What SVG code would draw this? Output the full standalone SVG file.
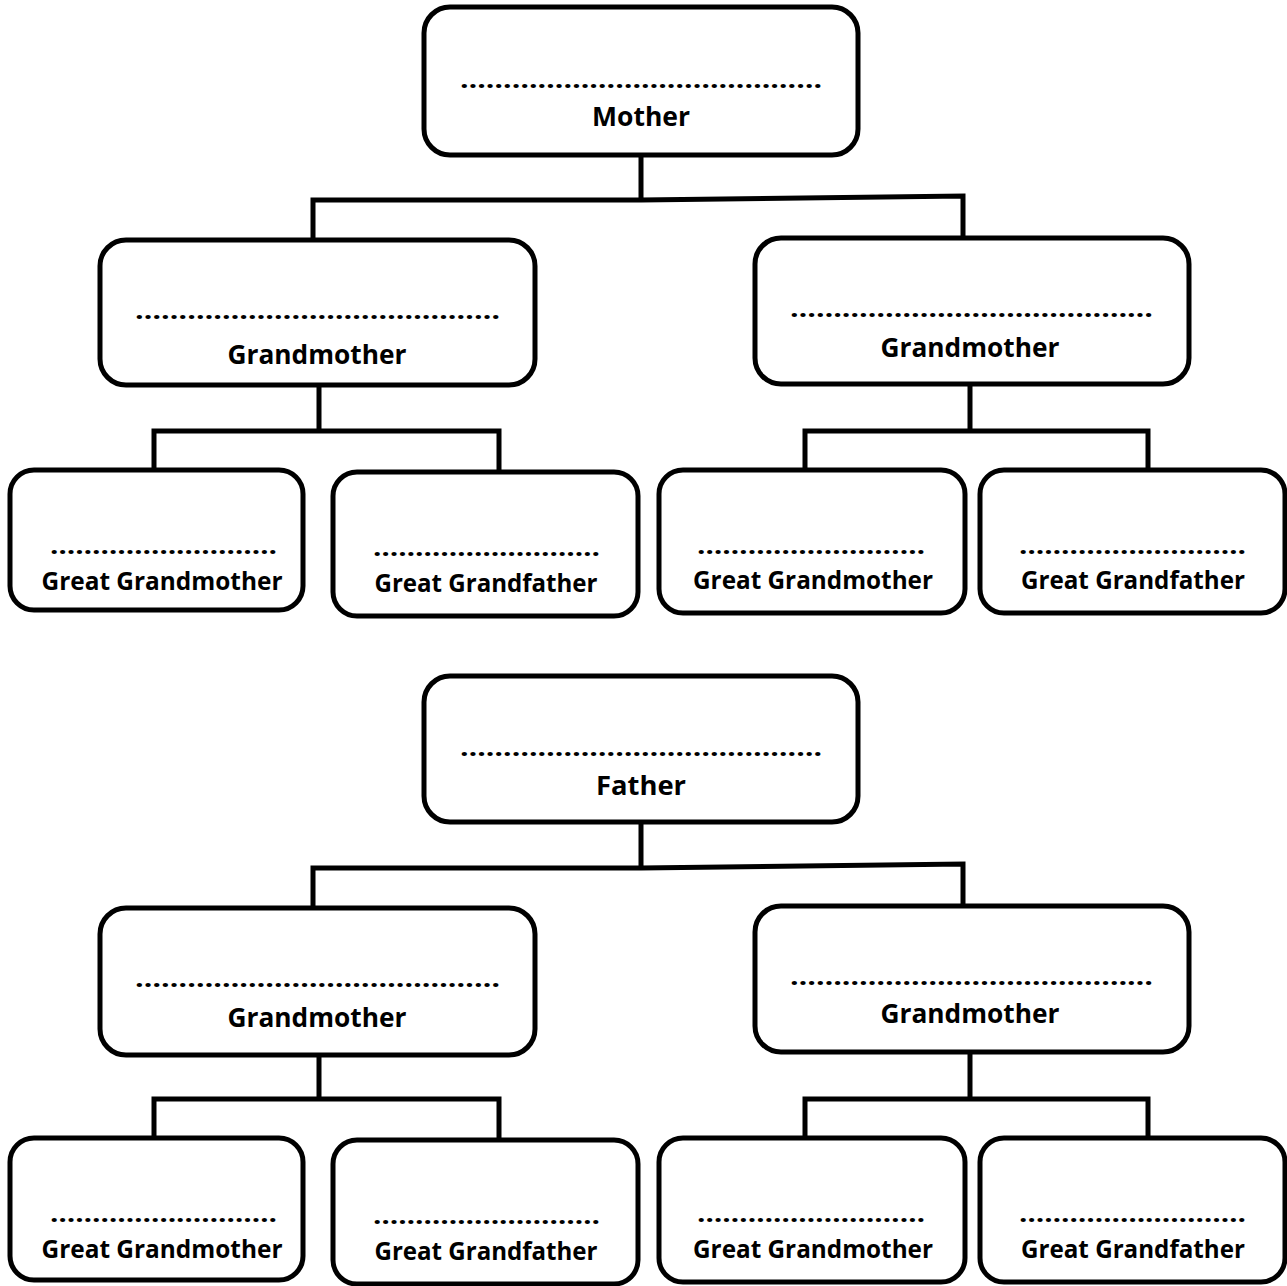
<svg xmlns="http://www.w3.org/2000/svg" width="1287" height="1286" viewBox="0 0 1287 1286">
<style>
.box{fill:#fff;stroke:#000;stroke-width:5}
.ln{fill:none;stroke:#000;stroke-width:5;stroke-linecap:square}
.t{font-family:"Open Sans","Liberation Sans",sans-serif;font-weight:700;fill:#000;text-anchor:middle}
.big{font-size:27px}
.sm{font-size:25px}
.dots{font-family:"Open Sans","Liberation Sans",sans-serif;font-weight:700;font-size:24px;fill:#000}
</style>
<rect width="1287" height="1286" fill="#fff"/>
<g id="connectors">
<path class="ln" d="M641 155V198M313 240V200H641L963 196V238"/>
<path class="ln" d="M319 385V430M154 468V431H499V470"/>
<path class="ln" d="M970 384V430M805 470V431H1148V472"/>
<path class="ln" d="M641 822V866M313 908V868H641L963 864V906"/>
<path class="ln" d="M319 1055V1097M154 1138V1099H499V1140"/>
<path class="ln" d="M970 1052V1097M805 1138V1099H1148V1140"/>
</g>
<g id="mother"><rect class="box" x="424" y="7" width="434" height="148" rx="26"/>
<text class="dots" x="460" y="88" textLength="362" lengthAdjust="spacingAndGlyphs">……………………………………</text>
<text class="t big" x="641" y="126" textLength="98" lengthAdjust="spacingAndGlyphs">Mother</text></g>
<g id="gm1"><rect class="box" x="100" y="240" width="435" height="145" rx="26"/>
<text class="dots" x="135" y="319" textLength="365" lengthAdjust="spacingAndGlyphs">……………………………………</text>
<text class="t big" x="317" y="364" textLength="179" lengthAdjust="spacingAndGlyphs">Grandmother</text></g>
<g id="gm2"><rect class="box" x="755" y="238" width="434" height="146" rx="26"/>
<text class="dots" x="790" y="317" textLength="363" lengthAdjust="spacingAndGlyphs">……………………………………</text>
<text class="t big" x="970" y="357" textLength="179" lengthAdjust="spacingAndGlyphs">Grandmother</text></g>
<g id="ggm1"><rect class="box" x="10" y="470" width="293" height="140" rx="24"/>
<text class="dots" x="50" y="554" textLength="227" lengthAdjust="spacingAndGlyphs">………………………</text>
<text class="t sm" x="162" y="590" textLength="241" lengthAdjust="spacingAndGlyphs">Great Grandmother</text></g>
<g id="ggf1"><rect class="box" x="333" y="472" width="305" height="144" rx="24"/>
<text class="dots" x="373" y="556" textLength="227" lengthAdjust="spacingAndGlyphs">………………………</text>
<text class="t sm" x="486" y="592" textLength="223" lengthAdjust="spacingAndGlyphs">Great Grandfather</text></g>
<g id="ggm2"><rect class="box" x="659" y="470" width="306" height="143" rx="24"/>
<text class="dots" x="697" y="554" textLength="228" lengthAdjust="spacingAndGlyphs">………………………</text>
<text class="t sm" x="813" y="589" textLength="240" lengthAdjust="spacingAndGlyphs">Great Grandmother</text></g>
<g id="ggf2"><rect class="box" x="980" y="470" width="305" height="143" rx="24"/>
<text class="dots" x="1019" y="554" textLength="227" lengthAdjust="spacingAndGlyphs">………………………</text>
<text class="t sm" x="1133" y="589" textLength="224" lengthAdjust="spacingAndGlyphs">Great Grandfather</text></g>
<g id="father"><rect class="box" x="424" y="676" width="434" height="146" rx="26"/>
<text class="dots" x="460" y="756" textLength="362" lengthAdjust="spacingAndGlyphs">……………………………………</text>
<text class="t big" x="641" y="795" textLength="90" lengthAdjust="spacingAndGlyphs">Father</text></g>
<g id="gm3"><rect class="box" x="100" y="908" width="435" height="147" rx="26"/>
<text class="dots" x="135" y="987" textLength="365" lengthAdjust="spacingAndGlyphs">……………………………………</text>
<text class="t big" x="317" y="1027" textLength="179" lengthAdjust="spacingAndGlyphs">Grandmother</text></g>
<g id="gm4"><rect class="box" x="755" y="906" width="434" height="146" rx="26"/>
<text class="dots" x="790" y="985" textLength="363" lengthAdjust="spacingAndGlyphs">……………………………………</text>
<text class="t big" x="970" y="1023" textLength="179" lengthAdjust="spacingAndGlyphs">Grandmother</text></g>
<g id="ggm3"><rect class="box" x="10" y="1138" width="293" height="142" rx="24"/>
<text class="dots" x="50" y="1222" textLength="227" lengthAdjust="spacingAndGlyphs">………………………</text>
<text class="t sm" x="162" y="1258" textLength="241" lengthAdjust="spacingAndGlyphs">Great Grandmother</text></g>
<g id="ggf3"><rect class="box" x="333" y="1140" width="305" height="144" rx="24"/>
<text class="dots" x="373" y="1224" textLength="227" lengthAdjust="spacingAndGlyphs">………………………</text>
<text class="t sm" x="486" y="1260" textLength="223" lengthAdjust="spacingAndGlyphs">Great Grandfather</text></g>
<g id="ggm4"><rect class="box" x="659" y="1138" width="306" height="144" rx="24"/>
<text class="dots" x="697" y="1222" textLength="228" lengthAdjust="spacingAndGlyphs">………………………</text>
<text class="t sm" x="813" y="1258" textLength="240" lengthAdjust="spacingAndGlyphs">Great Grandmother</text></g>
<g id="ggf4"><rect class="box" x="980" y="1138" width="305" height="144" rx="24"/>
<text class="dots" x="1019" y="1222" textLength="227" lengthAdjust="spacingAndGlyphs">………………………</text>
<text class="t sm" x="1133" y="1258" textLength="224" lengthAdjust="spacingAndGlyphs">Great Grandfather</text></g>
</svg>
